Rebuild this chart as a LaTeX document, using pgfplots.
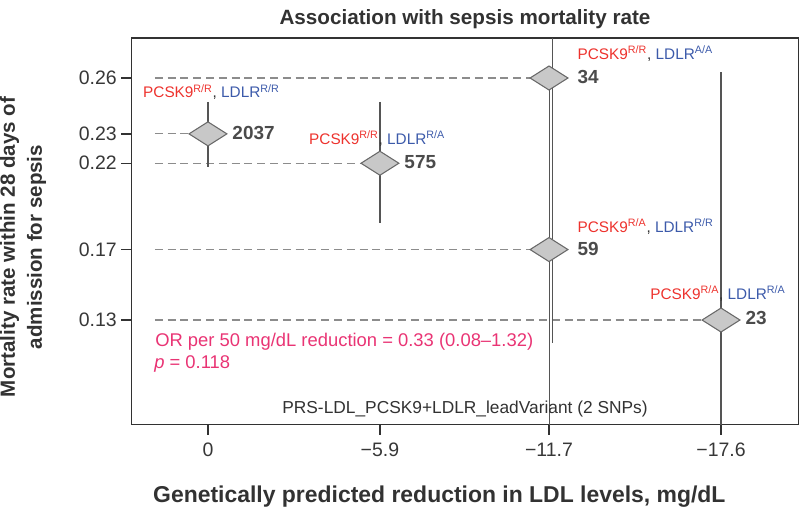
\documentclass[border=0pt]{standalone}
\usepackage{pgfplots}
\pgfplotsset{compat=1.18}
\usepackage{fontspec}
\setmainfont{Liberation Sans}
\definecolor{axisc}{RGB}{50,50,50}
\definecolor{tickc}{RGB}{55,55,55}
\definecolor{numc}{RGB}{75,75,75}
\definecolor{cic}{RGB}{85,85,85}
\definecolor{dashc}{RGB}{140,140,140}
\definecolor{diafill}{RGB}{200,200,200}
\definecolor{diaedge}{RGB}{105,105,105}
\definecolor{pcsk}{RGB}{237,50,45}
\definecolor{ldlr}{RGB}{60,90,170}
\definecolor{orc}{RGB}{233,52,116}
\pgfdeclareplotmark{wdiam}{%
  \pgfpathmoveto{\pgfqpoint{0pt}{9pt}}%
  \pgfpathlineto{\pgfqpoint{14.2pt}{0pt}}%
  \pgfpathlineto{\pgfqpoint{0pt}{-9pt}}%
  \pgfpathlineto{\pgfqpoint{-14.2pt}{0pt}}%
  \pgfpathclose\pgfusepathqfillstroke}
\newcommand{\geno}[2]{\textcolor{pcsk}{PCSK9\textsuperscript{#1}}\textcolor{axisc}{,}\kern0.28em\textcolor{ldlr}{LDLR\textsuperscript{#2}}}
\begin{document}
\begin{tikzpicture}
\path[use as bounding box] (0,0) rectangle (600pt,381pt);
\begin{axis}[
  at={(98.6pt,62.6pt)}, anchor=south west,
  scale only axis, width=500.25pt, height=289.9pt,
  x dir=reverse, xmin=-20.257, xmax=2.624, ymin=0.0724, ymax=0.2869,
  clip=false,
  axis line style={color=axisc, line width=1.3pt},
  xtick={0,-5.9,-11.7,-17.6}, xticklabels={0,−5.9,−11.7,−17.6},
  ytick={0.1304,0.1695,0.2174,0.2337,0.2647},
  yticklabels={0.13,0.17,0.22,0.23,0.26},
  tick align=outside, major tick length=7.5pt,
  xtick pos=bottom, ytick pos=left,
  tick style={color=axisc, line width=1pt},
  ticklabel style={font=\fontsize{14.6}{16}\selectfont, text=tickc},
  xticklabel style={yshift=-3pt},
]
% diamonds
\addplot[only marks, mark=wdiam, mark options={fill=diafill, draw=diaedge, line width=0.8pt}]
  coordinates {(0,0.2337) (-5.9,0.2174) (-11.7,0.2647) (-11.7,0.1695) (-17.6,0.1304)};
% dashed reference lines
\addplot[dashc, dash pattern=on 6pt off 3.6pt, line width=0.9pt] coordinates {(1.82,0.2337) (0,0.2337)};
\addplot[dashc, dash pattern=on 6pt off 3.6pt, line width=0.9pt] coordinates {(1.82,0.2174) (-5.9,0.2174)};
\addplot[dashc, dash pattern=on 6pt off 3.6pt, line width=0.9pt] coordinates {(1.82,0.2647) (-11.7,0.2647)};
\addplot[dashc, dash pattern=on 6pt off 3.6pt, line width=0.9pt] coordinates {(1.82,0.1695) (-11.7,0.1695)};
\addplot[dashc, dash pattern=on 6pt off 3.6pt, line width=0.9pt] coordinates {(1.82,0.1304) (-17.6,0.1304)};
% confidence lines
\addplot[cic, line width=0.9pt] coordinates {(0,0.2514) (0,0.2153)};
\addplot[cic, line width=0.9pt] coordinates {(-5.9,0.2514) (-5.9,0.1842)};
\addplot[cic, line width=0.9pt] coordinates {(-11.82,0.2869) (-11.82,0.1176)};
\addplot[cic, line width=0.9pt] coordinates {(-11.71,0.2647) (-11.71,0.0724)};
\addplot[cic, line width=0.9pt] coordinates {(-17.6,0.2680) (-17.6,0.0724)};
% counts
\begin{scope}[every node/.style={font=\bfseries\fontsize{14.2}{16}\selectfont, text=numc, anchor=west, inner sep=0pt}]
\node[xshift=18.2pt, yshift=1pt] at (axis cs:0,0.2337) {2037};
\node[xshift=18.2pt, yshift=0.5pt] at (axis cs:-5.9,0.2174) {575};
\node[xshift=21.3pt, yshift=0.5pt] at (axis cs:-11.7,0.2647) {34};
\node[xshift=21.3pt, yshift=0.5pt] at (axis cs:-11.7,0.1695) {59};
\node[xshift=18.2pt, yshift=1.5pt] at (axis cs:-17.6,0.1304) {23};
\end{scope}
% genotype labels
\begin{scope}[every node/.style={font=\fontsize{11.5}{13}\selectfont, anchor=base west, inner sep=0pt}]
\node[xshift=-48.75pt, yshift=27pt] at (axis cs:0,0.2337) {\geno{R/R}{R/R}};
\node[xshift=-53.25pt, yshift=14.25pt] at (axis cs:-5.9,0.2174) {\geno{R/R}{R/A}};
\node[xshift=21.3pt, yshift=14.25pt] at (axis cs:-11.7,0.2647) {\geno{R/R}{A/A}};
\node[xshift=21.3pt, yshift=12.75pt] at (axis cs:-11.7,0.1695) {\geno{R/A}{R/R}};
\node[xshift=-53.25pt, yshift=15.75pt] at (axis cs:-17.6,0.1304) {\geno{R/A}{R/A}};
\end{scope}
\end{axis}
% texts
\node[anchor=base, font=\bfseries\fontsize{15.5}{18}\selectfont, text=axisc] at (348.75pt,362.25pt) {Association with sepsis mortality rate};
\node[anchor=base, font=\bfseries\fontsize{17.2}{20}\selectfont, text=axisc] at (329.5pt,4.5pt) {Genetically predicted reduction in LDL levels, mg/dL};
\node[rotate=90, align=center, font=\bfseries\fontsize{15.4}{20.25}\selectfont, text=axisc] at (17.25pt,195.75pt) {Mortality rate within 28 days of\\admission for sepsis};
\node[anchor=base west, inner sep=0pt, font=\fontsize{13.8}{16}\selectfont, text=orc] at (116.25pt,121pt) {OR per 50 mg/dL reduction = 0.33 (0.08–1.32)};
\node[anchor=base west, inner sep=0pt, font=\fontsize{13.8}{16}\selectfont, text=orc] at (115.5pt,104.8pt) {\textit{p} = 0.118};
\node[anchor=base, inner sep=0pt, font=\fontsize{13}{15}\selectfont, text=axisc] at (348.75pt,71.25pt) {PRS-LDL\_PCSK9+LDLR\_leadVariant (2 SNPs)};
\end{tikzpicture}
\end{document}
